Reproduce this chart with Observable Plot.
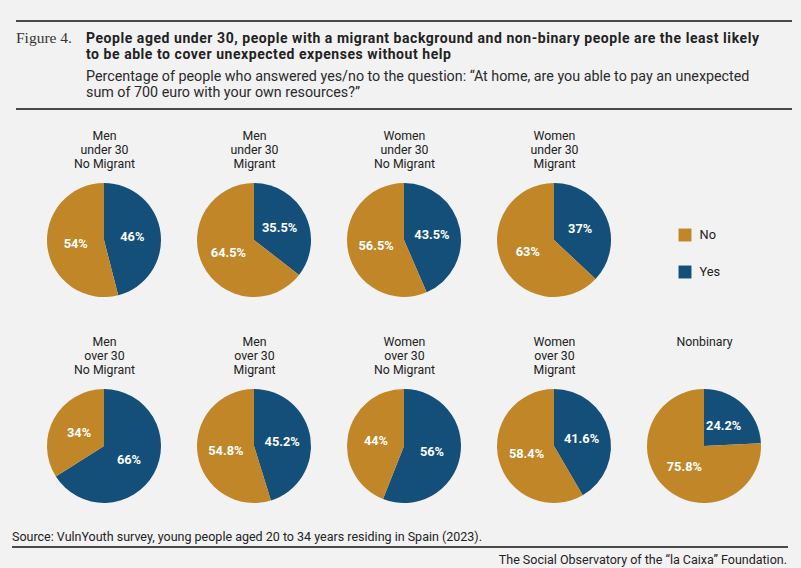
<!DOCTYPE html>
<html>
<head>
<meta charset="utf-8">
<script src="https://cdn.jsdelivr.net/npm/d3@7"></script>
<script src="https://cdn.jsdelivr.net/npm/@observablehq/plot@0.6"></script>
<style>
  html, body { margin: 0; padding: 0; background: #f2f2f2; }
  #wrap { position: relative; width: 801px; height: 568px; background: #f2f2f2; font-family: Roboto, "Liberation Sans", sans-serif; color: #222; overflow: hidden; }
  .rule { position: absolute; height: 2px; background: #4a4a4a; }
  #fig { position: absolute; left: 16px; top: 30px; font-family: "Liberation Serif", "DejaVu Serif", serif; font-size: 15.5px; line-height: 16px; color: #333; }
  #title { position: absolute; left: 86px; top: 30px; width: 710px; font-size: 14px; font-weight: 700; line-height: 16px; letter-spacing: 0.55px; color: #222; white-space: nowrap; }
  #subtitle { position: absolute; left: 86px; top: 68px; width: 710px; font-size: 14.3px; line-height: 16px; color: #2a2a2a; white-space: nowrap; }
  #chart { position: absolute; left: 0; top: 112px; }
  #source { position: absolute; left: 12px; top: 530px; font-size: 12.5px; line-height: 14px; color: #222; white-space: nowrap; }
  #credit { position: absolute; right: 14px; top: 553px; font-size: 12.5px; line-height: 14px; color: #222; white-space: nowrap; }
</style>
</head>
<body>
<div id="wrap">
  <div class="rule" style="left:16px; top:20px; width:776px;"></div>
  <div id="fig">Figure 4.</div>
  <div id="title">People aged under 30, people with a migrant background and non-binary people are the least likely<br>to be able to cover unexpected expenses without help</div>
  <div id="subtitle">Percentage of people who answered yes/no to the question: “At home, are you able to pay an unexpected<br>sum of 700 euro with your own resources?”</div>
  <div class="rule" style="left:16px; top:108px; width:776px;"></div>
  <div id="chart"></div>
  <div id="source">Source: VulnYouth survey, young people aged 20 to 34 years residing in Spain (2023).</div>
  <div class="rule" style="left:12px; top:546px; width:776px;"></div>
  <div id="credit">The Social Observatory of the “la Caixa” Foundation.</div>
</div>
<script>
// ---- data ----
const groupTitles = [
  "Men\nunder 30\nNo Migrant",
  "Men\nunder 30\nMigrant",
  "Women\nunder 30\nNo Migrant",
  "Women\nunder 30\nMigrant",
  "Men\nover 30\nNo Migrant",
  "Men\nover 30\nMigrant",
  "Women\nover 30\nNo Migrant",
  "Women\nover 30\nMigrant",
  "Nonbinary"
];
const yesValues = [46, 35.5, 43.5, 37, 66, 45.2, 56, 41.6, 24.2];
const noValues  = [54, 64.5, 56.5, 63, 34, 54.8, 44, 58.4, 75.8];
const answers = ["No", "Yes"];
const answerColors = ["#c08628", "#134f78"];

// ---- layout ----
const W = 801, H = 414;
const colStep = 150, rowStep = 206;
const firstCx = 104, firstCy = 128;
const R = 57;

const groups = groupTitles.map((title, i) => ({
  title,
  col: i < 4 ? i : i - 4,
  row: i < 4 ? 0 : 1,
  Yes: yesValues[i],
  No: noValues[i]
}));
const legendRows = answers.map((a, k) => ({answer: a, k}));

const pie = d3.pie().sort(null).value(d => d.value);
const arc = d3.arc().innerRadius(0).outerRadius(R);

function pies(index, scales) {
  const g = d3.create("svg:g");
  for (const d of groups) {
    const cx = scales.x(d.col), cy = scales.y(d.row);
    const slices = pie([{answer: "Yes", value: d.Yes}, {answer: "No", value: d.No}]);
    const gg = g.append("g").attr("transform", `translate(${cx},${cy})`);
    gg.selectAll("path").data(slices).join("path")
      .attr("d", arc)
      .attr("fill", s => scales.color(s.data.answer));
    gg.selectAll("text").data(slices).join("text")
      .attr("transform", s => { const [x, y] = arc.centroid(s); return `translate(${x},${y})`; })
      .attr("text-anchor", "middle")
      .attr("dy", "0.35em")
      .attr("fill", "white")
      .attr("font-weight", 700)
      .attr("font-size", 12.8)
      .text(s => `${s.data.value}%`);
  }
  return g.node();
}

const legendX = (684.5 - firstCx) / colStep;
const legendTextX = (699 - firstCx) / colStep;
const legendY = k => (122.5 + k * 37 - firstCy) / rowStep;

const plot = Plot.plot({
  width: W,
  height: H,
  marginTop: 0, marginRight: 0, marginBottom: 0, marginLeft: 0,
  style: {background: "transparent", fontFamily: "Roboto, 'Liberation Sans', sans-serif", color: "#222"},
  x: {domain: [-firstCx / colStep, (W - firstCx) / colStep], range: [0, W], axis: null},
  y: {domain: [-firstCy / rowStep, (H - firstCy) / rowStep], range: [0, H], axis: null},
  color: {domain: answers, range: answerColors},
  marks: [
    pies,
    Plot.text(groups, {
      x: "col", y: "row", text: "title",
      lineAnchor: "top", dy: -110.5,
      fontSize: 12.3, lineHeight: 14 / 12.3, fill: "#222"
    }),
    Plot.dot(legendRows, {
      x: () => legendX, y: d => legendY(d.k),
      fill: "answer", symbol: "square", r: 7.3
    }),
    Plot.text(legendRows, {
      x: () => legendTextX, y: d => legendY(d.k),
      text: "answer", textAnchor: "start", fontSize: 12.8, fill: "#222"
    })
  ]
});
document.getElementById("chart").appendChild(plot);
</script>
</body>
</html>
